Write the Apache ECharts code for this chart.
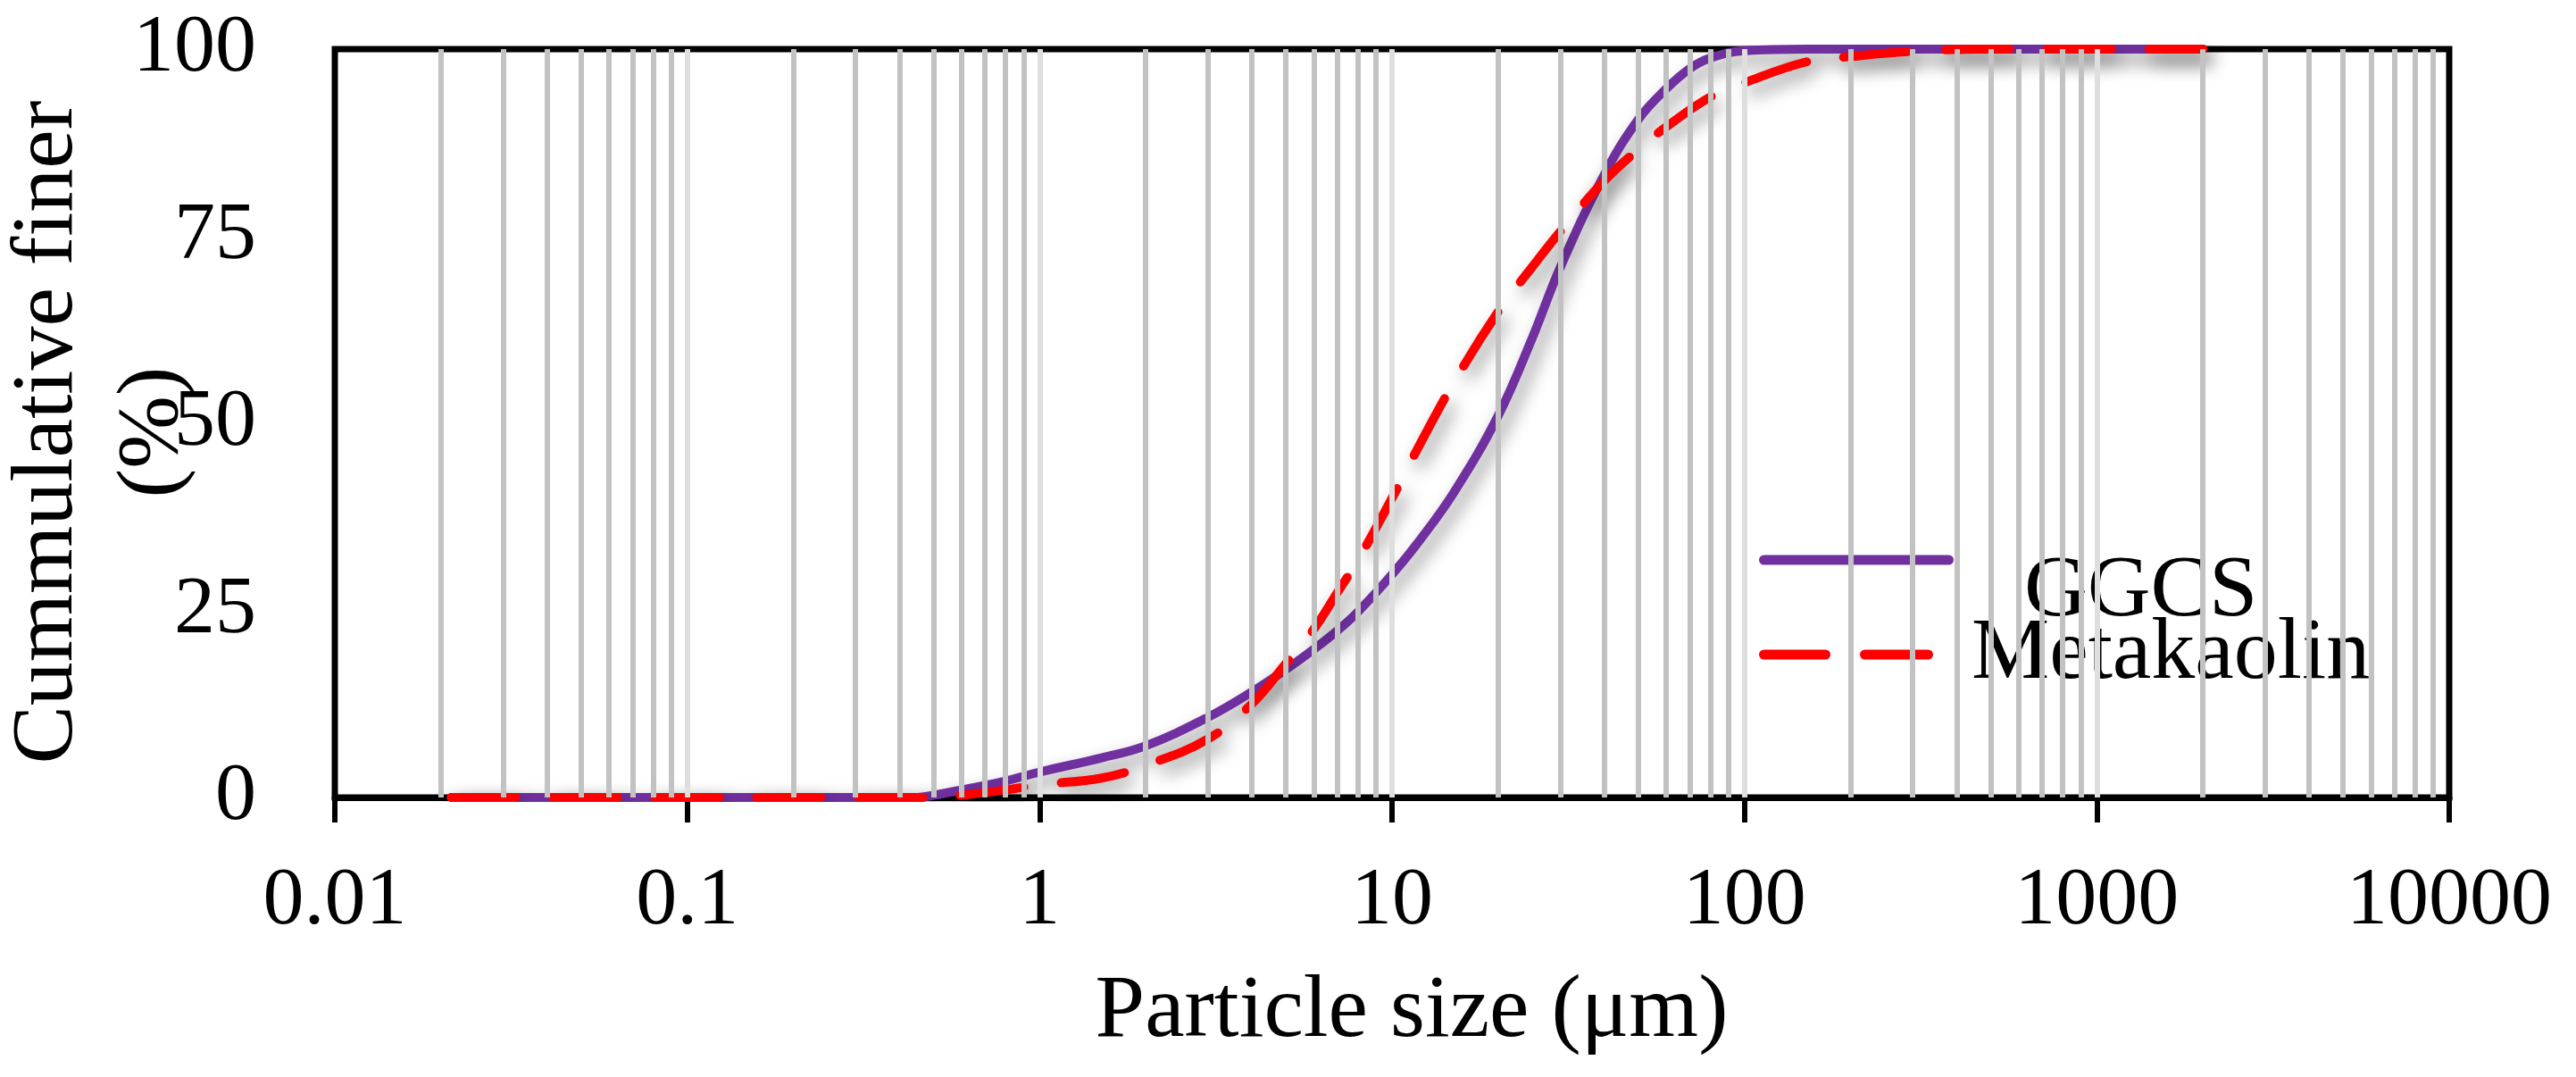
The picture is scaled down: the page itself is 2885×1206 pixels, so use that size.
<!DOCTYPE html>
<html>
<head>
<meta charset="utf-8">
<script src="https://cdn.jsdelivr.net/npm/echarts@6/dist/echarts.min.js"></script>
<style>
  html, body { margin: 0; padding: 0; background: #fff; }
  #chart { width: 2885px; height: 1206px; }
</style>
</head>
<body>
<div id="chart"></div>
<script>
// ---- data ----
const seriesNames = ['GGCS', 'Metakaolin'];
const xTickLabels = ['0.01', '0.1', '1', '10', '100', '1000', '10000'];
const yTickValues = [0, 25, 50, 75, 100];

const ggcsSize = [0.0214, 0.1, 0.3, 0.45, 0.5, 0.6, 0.8, 1, 1.5, 2, 3, 4, 5, 6, 7, 8, 10, 12, 15, 20, 25, 30, 40, 50, 60, 70, 80, 100, 150, 2000];
const ggcsPct  = [0, 0, 0, 0, 0.3, 1.0, 2.2, 3.4, 5.3, 6.9, 10.7, 14.1, 17.1, 19.8, 22.3, 24.8, 29.8, 34.4, 40.8, 51.0, 61.4, 70.8, 83.2, 90.6, 94.7, 97.4, 98.8, 99.8, 100, 100];

const mkSize = [0.0214, 0.1, 0.3, 0.52, 0.6, 0.8, 1, 1.5, 2, 3, 4, 5, 6, 7, 8, 10, 12, 15, 20, 25, 30, 40, 50, 60, 80, 100, 150, 200, 300, 500, 2000];
const mkPct  = [0, 0, 0, 0, 0.3, 1.0, 1.7, 2.6, 4.3, 7.8, 12.5, 17.9, 22.5, 27.4, 31.7, 40.0, 47.2, 55.5, 64.9, 70.9, 75.6, 82.4, 86.6, 89.6, 93.6, 95.5, 98.3, 99.0, 99.7, 100, 100];

// minor log grid lines (2..9 of each decade, and the decades 0.1..1000)
const gridValues = [
  0.02,0.03,0.04,0.05,0.06,0.07,0.08,0.09,0.1,
  0.2,0.3,0.4,0.5,0.6,0.7,0.8,0.9,1,
  2,3,4,5,6,7,8,9,10,
  20,30,40,50,60,70,80,90,100,
  200,300,400,500,600,700,800,900,1000,
  2000,3000,4000,5000,6000,7000,8000,9000
];
const decadeValues = [0.1, 1, 10, 100, 1000];

const FONT = '"Liberation Serif", "Times New Roman", serif';

function pairs(xs, ys) { return xs.map((x, i) => [x, ys[i]]); }

// legend sample shapes (218 x 83 box): solid bar at top / two dashes centred
const ICON_SOLID = 'path://M5.5,0H212.5A5.5,5.5,0,0,1,212.5,11H5.5A5.5,5.5,0,0,1,5.5,0Z M0,83L0,83 M218,83L218,83';
const ICON_DASH = 'path://M5.5,36H74.5A5.5,5.5,0,0,1,74.5,47H5.5A5.5,5.5,0,0,1,5.5,36Z M118.5,36H189.5A5.5,5.5,0,0,1,189.5,47H118.5A5.5,5.5,0,0,1,118.5,36Z M0,0L0,0 M218,83L218,83';

const chart = echarts.init(document.getElementById('chart'), null, { renderer: 'canvas' });

const shadow = { shadowBlur: 20, shadowColor: 'rgba(0,0,0,0.45)', shadowOffsetX: 6, shadowOffsetY: 10 };

const option = {
  animation: false,
  backgroundColor: '#ffffff',
  grid: {
    left: 375, right: 142, top: 55, bottom: 313,
    containLabel: false,
    outerBoundsMode: 'none',
    show: true, borderColor: '#000', borderWidth: 7, backgroundColor: 'transparent'
  },
  xAxis: {
    type: 'log',
    logBase: 10,
    min: 0.01,
    max: 10000,
    interval: 1,
    name: 'Particle size (μm)',
    nameLocation: 'middle',
    nameGap: 191,
    nameMoveOverlap: false,
    nameTextStyle: { fontFamily: FONT, fontSize: 100, lineHeight: 100, color: '#000', padding: [0, 0, 0, 44] },
    axisLine: { show: true, onZero: false, lineStyle: { color: '#000', width: 7 } },
    axisTick: { show: true, inside: false, length: 28, lineStyle: { color: '#000', width: 6 } },
    minorTick: { show: false },
    splitLine: { show: false },
    axisLabel: {
      fontFamily: FONT, fontSize: 92, color: '#000', margin: 71,
      formatter: function (v) {
        const idx = Math.round(Math.log10(v)) + 2;
        return xTickLabels[idx] !== undefined ? xTickLabels[idx] : String(v);
      }
    }
  },
  yAxis: {
    type: 'value',
    min: yTickValues[0],
    max: yTickValues[yTickValues.length - 1],
    interval: 25,
    name: 'Cummulative finer\n(%)',
    nameLocation: 'middle',
    nameRotate: 90,
    nameGap: 144,
    nameMoveOverlap: false,
    nameTextStyle: { fontFamily: FONT, fontSize: 98, lineHeight: 118, color: '#000', padding: [0, 20, 0, 0] },
    axisLine: { show: true, lineStyle: { color: '#000', width: 6 } },
    axisTick: { show: false },
    splitLine: { show: false },
    axisLabel: { fontFamily: FONT, fontSize: 92, color: '#000', margin: 88 }
  },
  legend: {
    orient: 'vertical',
    left: 1895,
    top: 563,
    padding: [51, 84, 16, 75],
    backgroundColor: '#ffffff',
    itemWidth: 218,
    itemHeight: 83,
    itemGap: -28,
    textStyle: { fontFamily: FONT, fontSize: 98, lineHeight: 83, color: '#000' },
    data: [
      { name: seriesNames[0], icon: ICON_SOLID, itemStyle: { color: '#7030A0', borderWidth: 0 }, textStyle: { padding: [0, 0, 0, 74] } },
      { name: seriesNames[1], icon: ICON_DASH, itemStyle: { color: '#FF0000', borderWidth: 0 }, textStyle: { padding: [0, 0, 0, 15] } }
    ]
  },
  series: [
    {
      name: '__grid',
      type: 'line',
      data: [],
      z: 1,
      silent: true,
      markLine: {
        silent: true,
        symbol: ['none', 'none'],
        animation: false,
        label: { show: false },
        emphasis: { disabled: true },
        data: gridValues.map(v => ({
          xAxis: v,
          lineStyle: {
            type: 'solid', width: 6,
            color: decadeValues.indexOf(v) >= 0 ? '#dedede' : '#c2c2c2'
          }
        }))
      }
    },
    {
      name: seriesNames[0],
      type: 'line',
      z: 3,
      data: pairs(ggcsSize, ggcsPct),
      smooth: 0.4,
      symbol: 'none',
      lineStyle: Object.assign({ color: '#7030A0', width: 10, cap: 'round', join: 'round' }, shadow),
      itemStyle: { color: '#7030A0' }
    },
    {
      name: seriesNames[1],
      type: 'line',
      z: 4,
      data: pairs(mkSize, mkPct),
      smooth: 0.4,
      symbol: 'none',
      lineStyle: Object.assign({ color: '#FF0000', width: 10, type: [72, 42], cap: 'round', join: 'round' }, shadow),
      itemStyle: { color: '#FF0000' }
    }
  ]
};

chart.setOption(option);
</script>
</body>
</html>
